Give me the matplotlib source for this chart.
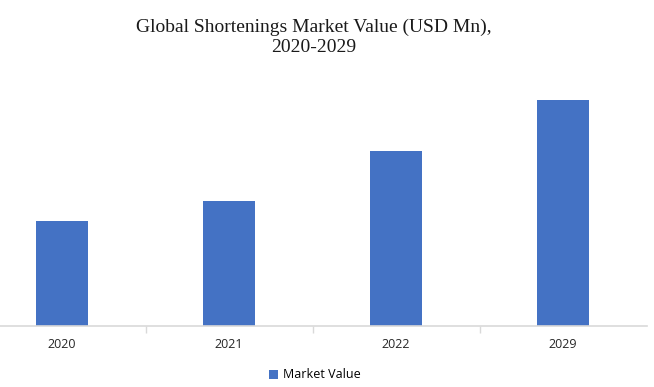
import matplotlib.pyplot as plt
import numpy as np

years = ['2020', '2021', '2022', '2029']
market_value = [105, 125, 175, 226]

fig = plt.figure(figsize=(6.54, 3.87), dpi=100)
W, H = 654, 387
# axes: baseline at y=326px, top at 76px, right edge at 646.5px
ax = fig.add_axes([0, (H - 326) / H, 646.5 / W, 250 / H])

x = np.arange(len(years))
bars = ax.bar(x, market_value, width=0.311, color='#4472C4', label='Market Value', zorder=2)

ax.set_xlim(-0.5 + 21.5 / 167, 3.5)
ax.set_ylim(0, 250)
ax.set_yticks([])
for s in ['top', 'right', 'left']:
    ax.spines[s].set_visible(False)
ax.spines['bottom'].set_color('#d9d9d9')
ax.spines['bottom'].set_linewidth(1.2)

ax.set_xticks(x)
ax.set_xticklabels(years, fontsize=9, family='Open Sans', color='#262626')
ax.tick_params(axis='x', length=0, pad=9)
ax.set_xticks(np.arange(0.5, 3.5, 1), minor=True)
ax.tick_params(axis='x', which='minor', length=5, color='#d9d9d9', width=1)

fig.text(314 / W, 1 - 27 / H, 'Global Shortenings Market Value (USD Mn),',
         ha='center', va='center', fontsize=14, family='Liberation Serif', color='#1a1a1a')
fig.text(314 / W, 1 - 47 / H, '2020-2029',
         ha='center', va='center', fontsize=14, family='Liberation Serif', color='#1a1a1a')

fig.legend(handles=[bars], labels=['Market Value'], loc='center',
           bbox_to_anchor=(315 / W, 1 - 375 / H), frameon=False,
           prop={'family': 'Open Sans', 'size': 9}, handlelength=0.7,
           handleheight=0.7, handletextpad=0.4)

fig.savefig('out.png', dpi=100)
